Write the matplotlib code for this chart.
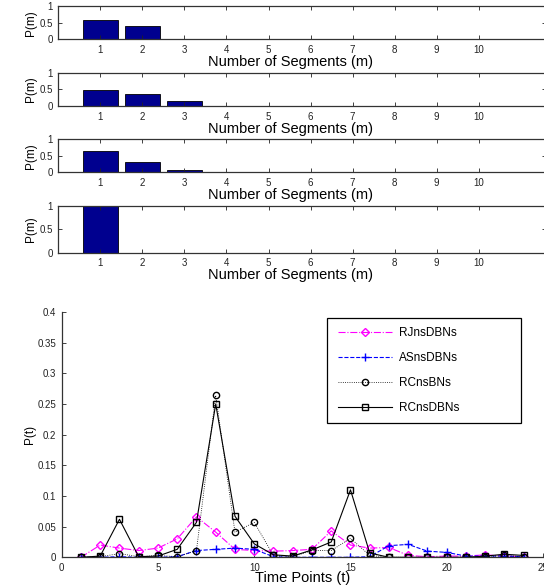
import matplotlib
matplotlib.use('Agg')
import matplotlib.pyplot as plt
from matplotlib.patches import Rectangle
import numpy as np

plt.rcParams['font.family'] = ['Liberation Sans', 'DejaVu Sans']

# --- data: segment count distributions (four panels) ---
segments = np.arange(1, 11)
p_seg_1 = [0.58, 0.40, 0.02, 0, 0, 0, 0, 0, 0, 0]
p_seg_2 = [0.48, 0.37, 0.14, 0.01, 0, 0, 0, 0, 0, 0]
p_seg_3 = [0.63, 0.30, 0.06, 0.01, 0, 0, 0, 0, 0, 0]
p_seg_4 = [1.0, 0, 0, 0, 0, 0, 0, 0, 0, 0]

# --- data: changepoint probabilities over time ---
time_points = np.arange(1, 25)
rjns = [0.0, 0.020, 0.015, 0.011, 0.015, 0.030, 0.066, 0.041, 0.013, 0.011,
        0.010, 0.011, 0.013, 0.043, 0.020, 0.015, 0.016, 0.003, 0.001, 0.002,
        0.002, 0.004, 0.002, 0.001]
asns = [0.0, 0.0, 0.001, 0.0, 0.0, 0.001, 0.011, 0.013, 0.015, 0.013,
        0.001, 0.0, 0.0, 0.0, 0.0, 0.001, 0.019, 0.021, 0.010, 0.008,
        0.002, 0.002, 0.002, 0.001]
rcns_bn = [0.0, 0.001, 0.006, 0.001, 0.003, 0.001, 0.011, 0.264, 0.041, 0.057,
           0.003, 0.001, 0.011, 0.011, 0.031, 0.003, 0.0, 0.0, 0.0, 0.0,
           0.0, 0.001, 0.003, 0.001]
rcns_dbn = [0.0, 0.002, 0.062, 0.001, 0.002, 0.013, 0.057, 0.250, 0.067, 0.022,
            0.004, 0.002, 0.012, 0.025, 0.110, 0.007, 0.0, 0.0, 0.0, 0.0,
            0.0, 0.002, 0.005, 0.003]

fig = plt.figure(figsize=(5.44, 5.86), dpi=100)
fig.patch.set_facecolor('white')

W, H = 544.0, 586.0
# (top, bottom) of each bar panel in pixels
bar_rows = [(6, 39.3), (72.7, 106), (139.3, 172), (206, 252.7)]
bar_data = [p_seg_1, p_seg_2, p_seg_3, p_seg_4]
left_px, right_px = 58.3, 546.0

for (top, bot), vals in zip(bar_rows, bar_data):
    ax = fig.add_axes([left_px / W, 1 - bot / H, (right_px - left_px) / W, (bot - top) / H])
    ax.bar(segments, vals, width=0.82, color='#00008F', edgecolor='black', linewidth=0.6)
    ax.set_xlim(0, 11.6)
    ax.set_ylim(0, 1)
    ax.set_xticks(segments)
    ax.set_yticks([0, 0.5, 1])
    ax.set_yticklabels(['0', '0.5', '1'])
    ax.tick_params(direction='in', top=True, right=True, labelsize=7, length=3, width=0.6, pad=4,
                   colors='#222222')
    ax.set_ylabel('P(m)', fontsize=8.5, labelpad=2)
    ax.set_xlabel('Number of Segments (m)', fontsize=10.5, labelpad=0)
    ax.xaxis.label.set_x(0.476)
    for s in ax.spines.values():
        s.set_linewidth(0.9)
        s.set_color('#333333')

# --- bottom line panel ---
x0, x1, y0, y1 = 61.7, 543.0, 557.3, 312.0
axl = fig.add_axes([x0 / W, 1 - y0 / H, (x1 - x0) / W, (y0 - y1) / H])
axl.plot(time_points, rjns, color='#FF00FF', linestyle='-.', marker='D', markersize=4,
         markerfacecolor='none', linewidth=0.8, label='RJnsDBNs')
axl.plot(time_points, asns, color='#0000FF', linestyle='--', marker='+', markersize=6,
         linewidth=0.8, label='ASnsDBNs')
axl.plot(time_points, rcns_bn, color='black', linestyle=':', marker='o', markersize=4.5,
         markerfacecolor='none', linewidth=0.6, label='RCnsBNs')
axl.plot(time_points, rcns_dbn, color='black', linestyle='-', marker='s', markersize=4,
         markerfacecolor='none', linewidth=0.8, label='RCnsDBNs')
axl.set_xlim(0, 25)
axl.set_ylim(0, 0.4)
axl.set_xticks([0, 5, 10, 15, 20, 25])
axl.set_yticks(np.arange(0, 0.401, 0.05))
axl.set_yticklabels(['0', '0.05', '0.1', '0.15', '0.2', '0.25', '0.3', '0.35', '0.4'])
axl.tick_params(direction='in', labelsize=7, length=3, width=0.6, pad=4, colors='#222222')
axl.spines['top'].set_visible(False)
axl.spines['right'].set_visible(False)
for s in ('left', 'bottom'):
    axl.spines[s].set_linewidth(0.9)
    axl.spines[s].set_color('#333333')
axl.set_xlabel('Time Points (t)', fontsize=10.5, labelpad=-1)
axl.set_ylabel('P(t)', fontsize=8.5, labelpad=1)


def to_ax(px, py):
    return (px - x0) / (x1 - x0), (y0 - py) / (y0 - y1)


# legend box drawn separately, matlab style (wide right padding)
bx, by = to_ax(327, 423)
bw = 194 / (x1 - x0)
bh = 105 / (y0 - y1)
axl.add_patch(Rectangle((bx, by), bw, bh, transform=axl.transAxes, facecolor='white',
                        edgecolor='black', linewidth=0.9, zorder=4, clip_on=False))
ax_, ay_ = to_ax(338, 370.5)
leg = axl.legend(loc='center left', bbox_to_anchor=(ax_, ay_), fontsize=8.5, frameon=False,
                 handlelength=4.6, labelspacing=1.12, borderpad=0, handletextpad=0.6,
                 borderaxespad=0)
leg.set_zorder(5)

fig.savefig('out.png', dpi=100, facecolor='white')
